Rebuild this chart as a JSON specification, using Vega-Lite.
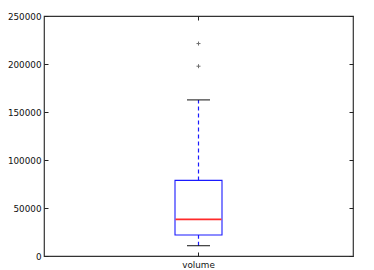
{
  "$schema": "https://vega.github.io/schema/vega-lite/v6.json",
  "width": 309,
  "height": 240,
  "autosize": {"type": "none"},
  "padding": {"left": 44, "top": 16, "right": 21, "bottom": 14},
  "background": "white",
  "config": {
    "view": {"stroke": "#333333", "strokeWidth": 1.2},
    "font": "DejaVu Sans",
    "axis": {"labelFont": "DejaVu Sans", "labelFontSize": 8.8, "labelColor": "#111111", "tickColor": "#222222", "grid": false, "domain": false, "title": null}
  },
  "datasets": {
    "box": [{"category": "volume", "lower": 10700, "q1": 21850, "median": 38200, "q3": 78750, "upper": 162600}],
    "outliers": [{"category": "volume", "value": 197700}, {"category": "volume", "value": 221300}]
  },
  "data": {"name": "box"},
  "encoding": {
    "x": {"field": "category", "type": "nominal", "scale": {"paddingInner": 0, "paddingOuter": 0}, "axis": null}
  },
  "resolve": {"axis": {"x": "independent", "y": "independent"}},
  "layer": [
    {
      "mark": {"type": "rule", "color": "#1a1aff", "strokeDash": [4, 3], "strokeWidth": 1.2},
      "encoding": {
        "x": {"field": "category", "type": "nominal", "axis": {"orient": "bottom", "labelAngle": 0, "tickSize": -4, "labelPadding": 8}},
        "y": {"field": "q3", "type": "quantitative", "scale": {"domain": [0, 250000], "nice": false}, "axis": {"orient": "left", "values": [0, 50000, 100000, 150000, 200000, 250000], "tickSize": -4, "labelPadding": 7, "format": "d"}},
        "y2": {"field": "upper"}
      }
    },
    {
      "mark": {"type": "rule", "color": "#1a1aff", "strokeDash": [4, 3], "strokeWidth": 1.2},
      "encoding": {
        "y": {"field": "lower", "type": "quantitative", "axis": null},
        "y2": {"field": "q1"}
      }
    },
    {
      "mark": {"type": "bar", "fill": "white", "stroke": "#1a1aff", "strokeWidth": 1.1, "size": 47},
      "encoding": {
        "y": {"field": "q1", "type": "quantitative", "axis": null},
        "y2": {"field": "q3"}
      }
    },
    {
      "mark": {"type": "tick", "fill": "#ff2a2a", "color": "#ff2a2a", "size": 46, "thickness": 1.6, "opacity": 1},
      "encoding": {"y": {"field": "median", "type": "quantitative", "axis": null}}
    },
    {
      "mark": {"type": "tick", "color": "#111111", "size": 23, "thickness": 1, "opacity": 1},
      "encoding": {"y": {"field": "upper", "type": "quantitative", "axis": null}}
    },
    {
      "mark": {"type": "tick", "color": "#111111", "size": 23, "thickness": 1, "opacity": 1},
      "encoding": {"y": {"field": "lower", "type": "quantitative", "axis": null}}
    },
    {
      "data": {"name": "outliers"},
      "mark": {"type": "point", "shape": "M-1,0H1M0,-1V1", "size": 16, "stroke": "#333333", "strokeWidth": 1, "filled": false},
      "encoding": {
        "x": {"field": "category", "type": "nominal", "axis": {"orient": "top", "labels": false, "tickSize": -4}},
        "y": {"field": "value", "type": "quantitative", "axis": {"orient": "right", "labels": false, "values": [0, 50000, 100000, 150000, 200000, 250000], "tickSize": -4}}
      }
    }
  ]
}
